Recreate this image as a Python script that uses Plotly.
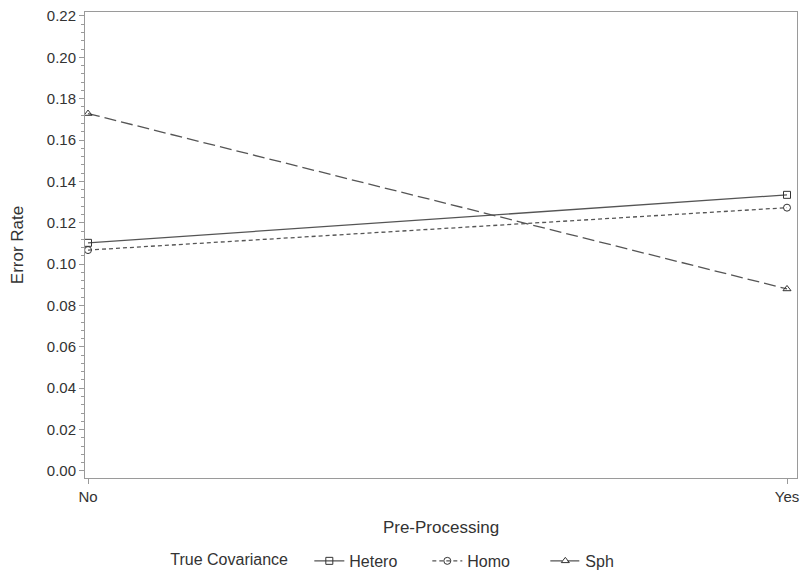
import plotly.graph_objects as go

categories = ["No", "Yes"]
hetero = [0.1103, 0.1335]
homo = [0.1068, 0.1273]
sph = [0.1728, 0.0880]
series_names = ["Hetero", "Homo", "Sph"]
y_ticks = [0.00, 0.02, 0.04, 0.06, 0.08, 0.10, 0.12, 0.14, 0.16, 0.18, 0.20, 0.22]

x_pos = list(range(len(categories)))
font_family = "Liberation Sans, Arial, sans-serif"
line_color = "#555555"
text_color = "#333333"

styles = [
    dict(dash="solid", symbol="square-open"),
    dict(dash="4px,3px", symbol="circle-open"),
    dict(dash="12px,5px", symbol="triangle-up-open"),
]

fig = go.Figure()
for name, vals, st in zip(series_names, [hetero, homo, sph], styles):
    fig.add_trace(go.Scatter(
        x=x_pos, y=vals, name=name, mode="lines+markers",
        line=dict(color=line_color, width=1.3, dash=st["dash"]),
        marker=dict(symbol=st["symbol"], size=7, color="#333333",
                    line=dict(width=1, color="#333333")),
    ))

axis_common = dict(
    showline=True, linecolor="#9a9a9a", linewidth=1, mirror=True,
    ticks="outside", ticklen=5, tickcolor="#9a9a9a",
    showgrid=False, zeroline=False, automargin=False,
    ticklabeloverflow="allow",
    tickfont=dict(family=font_family, size=15, color=text_color),
)

fig.update_xaxes(
    tickmode="array", tickvals=x_pos, ticktext=categories,
    range=[-0.0043, 1.0143],
    title=dict(text="Pre-Processing", font=dict(family=font_family, size=17, color=text_color), standoff=17),
    **axis_common,
)
fig.update_yaxes(
    tickmode="array", tickvals=y_ticks, ticktext=[f"{v:.2f}" for v in y_ticks],
    range=[-0.0034, 0.2219],
    minor=dict(dtick=0.004, tick0=0, ticks="outside", ticklen=3, tickcolor="#9a9a9a", showgrid=False),
    title=dict(text="Error Rate", font=dict(family=font_family, size=17, color=text_color), standoff=18),
    **axis_common,
)

fig.update_layout(
    width=803, height=573,
    margin=dict(l=85, r=6, t=12, b=95, autoexpand=False),
    paper_bgcolor="white", plot_bgcolor="white",
    font=dict(family=font_family, size=16, color=text_color),
    legend=dict(
        orientation="h", x=0.117, xanchor="left", y=-0.178, yanchor="middle",
        title=dict(text="True Covariance   ", side="left", font=dict(family=font_family, size=16, color=text_color)),
        font=dict(family=font_family, size=16, color=text_color),
        itemwidth=30, entrywidth=73, entrywidthmode="pixels",
    ),
)

fig.write_html(
    "out.html",
    config={"displayModeBar": False},
    post_script="document.body.style.margin='0';document.body.style.overflow='hidden';",
)
